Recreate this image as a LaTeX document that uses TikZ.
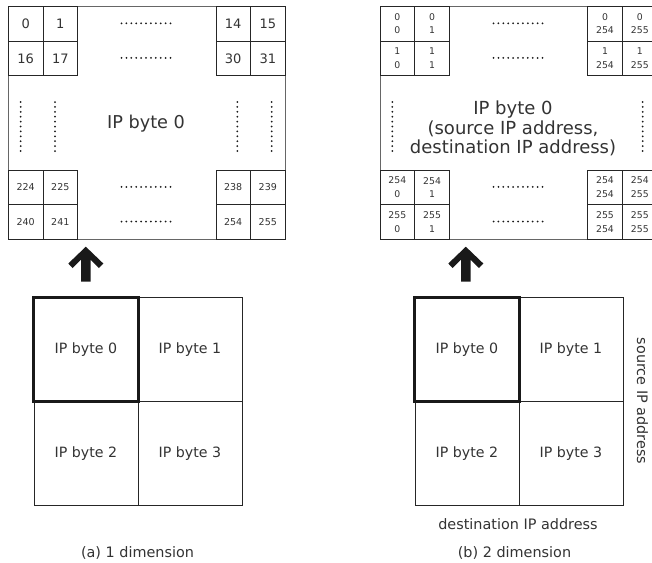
\documentclass[tikz,border=0pt]{standalone}
\usepackage{fontspec}
\setmainfont{DejaVu Sans}
\begin{document}
\begin{tikzpicture}[x=1pt,y=-1pt,
  txt/.style={text=black!80, inner sep=0pt},
  outer/.style={draw=black!60, line width=0.8pt, anchor=north west, inner sep=0pt},
  cell/.style={draw=black!85, line width=0.8pt, anchor=north west, minimum width=34.6pt, minimum height=34.6pt, inner sep=0pt, text=black!80, font=\fontsize{13}{15}\selectfont},
  smallcell/.style={cell, font=\fontsize{9.5}{11}\selectfont},
  paircell/.style={cell, minimum width=34.8pt, align=center, font=\fontsize{9.3}{13.5}\selectfont},
  dotline/.style={line width=2pt, line cap=round, dash pattern=on 0pt off 4.9pt, black!90},
  bigbox/.style={draw=black!85, line width=0.8pt, anchor=north west, minimum width=104pt, minimum height=104pt, inner sep=0pt, text=black!80, font=\fontsize{14.2}{16}\selectfont},
  thickbox/.style={draw=black!90, line width=3pt},
  caption/.style={txt, font=\fontsize{14.4}{16}\selectfont},
  uparrow/.style={fill=black!90, draw=none}
]
\useasboundingbox (0,0) rectangle (652,562);
\clip (0,0) rectangle (652,562);

% ---------------- left top grid ----------------
\node[outer, minimum width=276.5pt, minimum height=232.8pt] (gA) at (8,6) {};
\node[cell] (a0) at (8,6) {0};
\node[cell] (a1) at (42.6,6) {1};
\node[cell] (a14) at (215.5,6) {14};
\node[cell] (a15) at (250.1,6) {15};
\node[cell] (a16) at (8,40.6) {16};
\node[cell] (a17) at (42.6,40.6) {17};
\node[cell] (a30) at (215.5,40.6) {30};
\node[cell] (a31) at (250.1,40.6) {31};
\node[smallcell] (a224) at (8,169.6) {224};
\node[smallcell] (a225) at (42.6,169.6) {225};
\node[smallcell] (a238) at (215.5,169.6) {238};
\node[smallcell] (a239) at (250.1,169.6) {239};
\node[smallcell] (a240) at (8,204.2) {240};
\node[smallcell] (a241) at (42.6,204.2) {241};
\node[smallcell] (a254) at (215.5,204.2) {254};
\node[smallcell] (a255) at (250.1,204.2) {255};
\node[txt, font=\fontsize{17.7}{20}\selectfont] (aT) at (146,124) {IP byte 0};
\foreach \yy in {23.3,57.9,186.9,221.5} \draw[dotline] (121.5,\yy) -- (170.5,\yy);
\foreach \xx in {20.7,55,237.3,271.7} \draw[dotline] (\xx,102) -- (\xx,151);

% ---------------- right top grid ----------------
\node[outer, minimum width=277.3pt, minimum height=232.8pt] (gB) at (379.5,6) {};
\node[paircell] (b00) at (379.5,6) {0\\0};
\node[paircell] (b01) at (414.3,6) {0\\1};
\node[paircell] (b0a) at (587.2,6) {0\\254};
\node[paircell] (b0b) at (622,6) {0\\255};
\node[paircell] (b10) at (379.5,40.6) {1\\0};
\node[paircell] (b11) at (414.3,40.6) {1\\1};
\node[paircell] (b1a) at (587.2,40.6) {1\\254};
\node[paircell] (b1b) at (622,40.6) {1\\255};
\node[paircell] (b20) at (379.5,169.6) {254\\0};
\node[paircell] (b21) at (414.3,169.6) {254\\1};
\node[paircell] (b2a) at (587.2,169.6) {254\\254};
\node[paircell] (b2b) at (622,169.6) {254\\255};
\node[paircell] (b30) at (379.5,204.2) {255\\0};
\node[paircell] (b31) at (414.3,204.2) {255\\1};
\node[paircell] (b3a) at (587.2,204.2) {255\\254};
\node[paircell] (b3b) at (622,204.2) {255\\255};
\node[txt, align=center, font=\fontsize{18}{19.5}\selectfont] (bT) at (513,128.5) {IP byte 0\\(source IP address,\\destination IP address)};
\foreach \yy in {23.3,57.9,186.9,221.5} \draw[dotline] (493.5,\yy) -- (542.5,\yy);
\foreach \xx in {392.3,642.7} \draw[dotline] (\xx,102) -- (\xx,151);

% ---------------- arrows ----------------
\fill[uparrow] (85.8,246.7) -- (103.3,263.5) -- (99,268) -- (90.6,259.7) -- (90.6,281.7)
  -- (81,281.7) -- (81,259.7) -- (72.5,268) -- (68.3,263.5) -- cycle;
\fill[uparrow] (465.8,246.7) -- (483.3,263.5) -- (479,268) -- (470.6,259.7) -- (470.6,281.7)
  -- (461,281.7) -- (461,259.7) -- (452.5,268) -- (448.3,263.5) -- cycle;

% ---------------- left bottom grid ----------------
\node[bigbox] (c0) at (33.5,297) {IP byte 0};
\node[bigbox] (c1) at (137.5,297) {IP byte 1};
\node[bigbox] (c2) at (33.5,401) {IP byte 2};
\node[bigbox] (c3) at (137.5,401) {IP byte 3};
\draw[thickbox] (c0.north west) rectangle (c0.south east);
\node[caption] (capA) at (137.5,553) {(a) 1 dimension};

% ---------------- right bottom grid ----------------
\node[bigbox] (d0) at (414.5,297) {IP byte 0};
\node[bigbox] (d1) at (518.5,297) {IP byte 1};
\node[bigbox] (d2) at (414.5,401) {IP byte 2};
\node[bigbox] (d3) at (518.5,401) {IP byte 3};
\draw[thickbox] (d0.north west) rectangle (d0.south east);
\node[caption, rotate=-90] (src) at (642.5,401) {source IP address};
\node[caption] (dst) at (518,524.5) {destination IP address};
\node[caption] (capB) at (514.5,553) {(b) 2 dimension};
\end{tikzpicture}
\end{document}
